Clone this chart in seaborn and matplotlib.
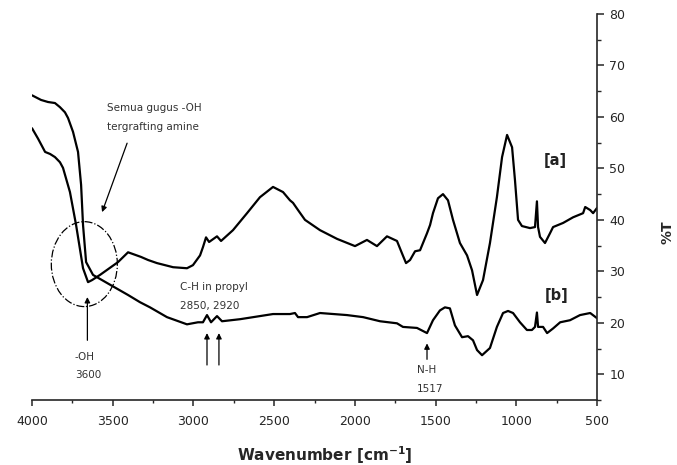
import numpy as np
import pandas as pd
import matplotlib
matplotlib.use('Agg')
import matplotlib.pyplot as plt
from matplotlib.patches import Ellipse
import seaborn as sns

# spectrum [a]
a_wn = [4000, 3963, 3919, 3888, 3858, 3827, 3808, 3765, 3727, 3684, 3653, 3628, 3579, 3467,
        3405, 3325, 3281, 3226, 3126, 3040, 3003, 2959, 2941, 2922, 2903, 2854, 2829, 2755,
        2668, 2588, 2507, 2445, 2402, 2383, 2352, 2309, 2216, 2110, 1999, 1925, 1863, 1801,
        1739, 1708, 1683, 1658, 1627, 1596, 1553, 1534, 1516, 1485, 1454, 1423, 1392, 1349,
        1305, 1274, 1243, 1206, 1163, 1120, 1088, 1057, 1026, 1008, 989, 965, 915, 884, 872,
        865, 853, 822, 791, 772, 710, 648, 586, 573, 542, 524, 500]
a_t = [57.8, 55.8, 53.2, 52.8, 52.2, 51.2, 50.1, 45.4, 39.0, 30.6, 27.9, 28.3, 29.3, 31.8,
       33.7, 32.8, 32.2, 31.6, 30.8, 30.6, 31.2, 33.1, 34.7, 36.6, 35.7, 36.8, 35.9, 38.0,
       41.3, 44.4, 46.4, 45.4, 43.8, 43.3, 41.9, 40.0, 38.0, 36.3, 34.9, 36.1, 34.9, 36.8,
       35.9, 33.5, 31.6, 32.2, 33.9, 34.1, 37.4, 39.0, 41.3, 44.2, 45.0, 43.8, 40.0, 35.5,
       33.1, 30.2, 25.4, 28.3, 35.5, 44.4, 52.2, 56.5, 54.1, 47.7, 40.0, 38.8, 38.4, 38.6, 43.6,
       38.6, 36.7, 35.5, 37.4, 38.6, 39.4, 40.5, 41.3, 42.5, 41.9, 41.3, 42.3]

# spectrum [b]
b_wn = [4000, 3944, 3901, 3858, 3827, 3796, 3777, 3746, 3715, 3696, 3684, 3665, 3622, 3511,
        3405, 3331, 3269, 3164, 3040, 2972, 2941, 2916, 2891, 2854, 2823, 2711, 2507, 2402,
        2371, 2352, 2296, 2216, 2049, 1949, 1844, 1739, 1702, 1615, 1553, 1516, 1473, 1442,
        1411, 1380, 1336, 1299, 1268, 1243, 1212, 1163, 1120, 1082, 1051, 1020, 977, 934, 903,
        884, 872, 865, 834, 809, 772, 728, 667, 605, 542, 500]
b_t = [64.2, 63.3, 62.9, 62.7, 61.9, 60.9, 59.8, 57.1, 53.2, 46.8, 39.0, 31.8, 29.3, 27.3,
       25.4, 24.0, 23.0, 21.1, 19.7, 20.1, 20.1, 21.5, 20.1, 21.3, 20.3, 20.7, 21.7, 21.7,
       21.9, 21.1, 21.1, 21.9, 21.5, 21.1, 20.3, 19.9, 19.2, 19.0, 18.0, 20.5, 22.4, 23.0,
       22.8, 19.5, 17.2, 17.4, 16.6, 14.7, 13.7, 15.1, 19.2, 21.9, 22.3, 21.9, 20.1, 18.6, 18.6,
       19.2, 22.0, 19.2, 19.2, 18.0, 18.9, 20.1, 20.5, 21.5, 21.9, 20.9]

x_ticks = [4000, 3500, 3000, 2500, 2000, 1500, 1000, 500]
y_ticks = [10, 20, 30, 40, 50, 60, 70, 80]

sns.set_style('ticks')
plt.rcParams['font.family'] = ['DejaVu Sans']

fig = plt.figure(figsize=(6.77, 4.65), dpi=100)
ax = fig.add_axes([0.0473, 0.1398, 0.8345, 0.8301])

sns.lineplot(x=a_wn, y=a_t, sort=False, estimator=None, color='black', lw=1.6, ax=ax)
sns.lineplot(x=b_wn, y=b_t, sort=False, estimator=None, color='black', lw=1.6, ax=ax)

ax.set_xlim(4000, 500)
ax.set_ylim(5, 80)
ax.set_xticks(x_ticks)
ax.set_xticks(np.arange(500, 4001, 250), minor=True)
ax.set_yticks(y_ticks)
ax.set_yticks(np.arange(5, 81, 5), minor=True)
ax.yaxis.tick_right()
sns.despine(ax=ax, left=True, right=False, top=True)
for s in ['bottom', 'right']:
    ax.spines[s].set_linewidth(1.2)
ax.tick_params(axis='x', which='major', length=4.5, width=1.1, pad=6, labelsize=9)
ax.tick_params(axis='x', which='minor', length=2.5, width=1.0)
ax.tick_params(axis='y', which='major', length=5, width=1.1, pad=4, labelsize=9,
               left=False, right=True)
ax.tick_params(axis='y', which='minor', length=3, width=1.0, left=False, right=True)
ax.set_xlabel('')
ax.set_ylabel('')

# dash-dot circle round the -OH region
ax.add_patch(Ellipse((3676, 31.4), 409, 16.5, fill=False, ls='-.', lw=0.9, color='black'))

arrow = dict(arrowstyle='-|>', color='black', lw=0.9, mutation_scale=8, shrinkA=0, shrinkB=0)
ax.annotate('', xy=(3566, 41.5), xytext=(3411, 54.9), arrowprops=arrow)
ax.annotate('', xy=(3657, 25.0), xytext=(3657, 16.6), arrowprops=arrow)
ax.annotate('', xy=(2916, 18.0), xytext=(2916, 11.8), arrowprops=arrow)
ax.annotate('', xy=(2842, 18.0), xytext=(2842, 11.8), arrowprops=arrow)
ax.annotate('', xy=(1553, 16.0), xytext=(1553, 12.9), arrowprops=arrow)

tk = dict(fontsize=7.5, color='#333333', va='center', ha='left')
ax.text(3535, 61.7, 'Semua gugus -OH', **tk)
ax.text(3535, 58.0, 'tergrafting amine', **tk)
ax.text(3734, 13.3, '-OH', **tk)
ax.text(3734, 9.8, '3600', **tk)
ax.text(3083, 26.9, 'C-H in propyl', **tk)
ax.text(3083, 23.2, '2850, 2920', **tk)
ax.text(1615, 10.8, 'N-H', **tk)
ax.text(1615, 7.1, '1517', **tk)
ax.text(760, 51.6, '[a]', fontsize=10.5, fontweight='bold', color='#222222', ha='center', va='center')
ax.text(748, 25.4, '[b]', fontsize=10.5, fontweight='bold', color='#222222', ha='center', va='center')

fig.text(324.5 / 677, 1 - 455 / 465, r'Wavenumber [cm$^{\mathbf{-1}}$]', fontsize=11,
         fontweight='bold', ha='center', va='center')
fig.text(668 / 677, 1 - 232 / 465, '%T', fontsize=10, fontweight='bold', rotation=90,
         ha='center', va='center')

fig.savefig('out.png', dpi=100)
